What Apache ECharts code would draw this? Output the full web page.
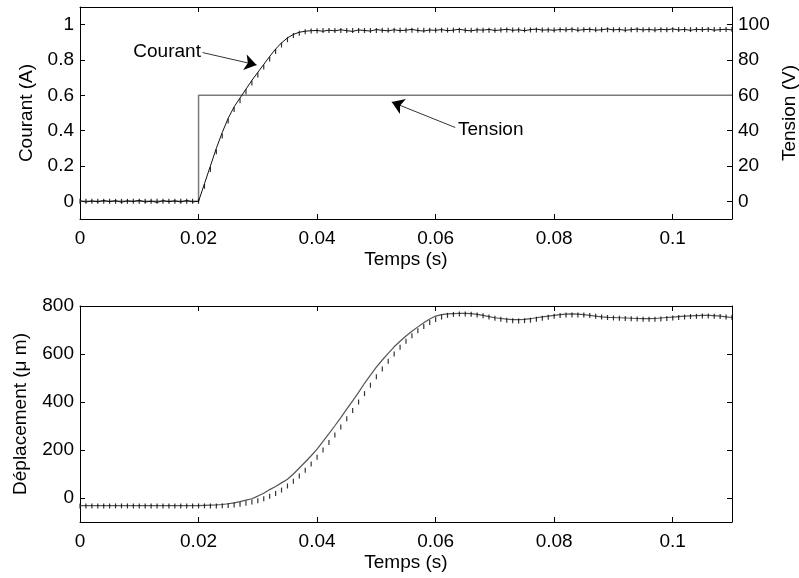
<!DOCTYPE html>
<html>
<head>
<meta charset="utf-8">
<script src="https://cdn.jsdelivr.net/npm/echarts@6/dist/echarts.min.js"></script>
<style>html,body{margin:0;padding:0;background:#fff;}#c{width:799px;height:578px;}</style>
</head>
<body>
<div id="c"></div>
<script>
// time samples (s)
const times = [0,0.001,0.002,0.003,0.004,0.005,0.006,0.007,0.008,0.009,
0.010,0.011,0.012,0.013,0.014,0.015,0.016,0.017,0.018,0.019,
0.020,0.021,0.022,0.023,0.024,0.025,0.026,0.027,0.028,0.029,
0.030,0.031,0.032,0.033,0.034,0.035,0.036,0.037,0.038,0.039,
0.040,0.041,0.042,0.043,0.044,0.045,0.046,0.047,0.048,0.049,
0.050,0.051,0.052,0.053,0.054,0.055,0.056,0.057,0.058,0.059,
0.060,0.061,0.062,0.063,0.064,0.065,0.066,0.067,0.068,0.069,
0.070,0.071,0.072,0.073,0.074,0.075,0.076,0.077,0.078,0.079,
0.080,0.081,0.082,0.083,0.084,0.085,0.086,0.087,0.088,0.089,
0.090,0.091,0.092,0.093,0.094,0.095,0.096,0.097,0.098,0.099,
0.100,0.101,0.102,0.103,0.104,0.105,0.106,0.107,0.108,0.109,0.110];

// Courant (A) - measured (solid, noisy)
const courantMesure = [0.003,-0.004,0.002,-0.003,0.005,-0.002,0.004,-0.005,0.003,-0.001,
0.006,-0.004,0.001,-0.006,0.004,-0.002,0.003,-0.004,0.005,-0.003,
0.000,0.10,0.20,0.30,0.39,0.47,0.535,0.585,0.635,0.685,
0.73,0.775,0.82,0.862,0.897,0.925,0.945,0.957,0.963,0.966,
0.967,0.963,0.969,0.965,0.971,0.966,0.962,0.970,0.967,0.964,
0.972,0.968,0.965,0.971,0.966,0.969,0.973,0.967,0.964,0.970,
0.968,0.972,0.966,0.969,0.974,0.968,0.965,0.971,0.969,0.973,
0.967,0.970,0.974,0.968,0.971,0.966,0.972,0.975,0.969,0.971,
0.968,0.973,0.970,0.975,0.968,0.972,0.974,0.969,0.971,0.976,
0.970,0.973,0.968,0.972,0.975,0.970,0.973,0.969,0.974,0.971,
0.976,0.970,0.973,0.968,0.974,0.971,0.975,0.969,0.972,0.974,0.970];

// Courant (A) - simulated (tick markers)
const courantSimule = [0,0,0,0,0,0,0,0,0,0,
0,0,0,0,0,0,0,0,0,0,
0,0.085,0.18,0.28,0.37,0.455,0.52,0.57,0.62,0.67,
0.715,0.76,0.805,0.848,0.885,0.915,0.938,0.952,0.960,0.964,
0.966,0.967,0.967,0.967,0.967,0.967,0.967,0.967,0.967,0.967,
0.967,0.968,0.968,0.968,0.968,0.968,0.968,0.968,0.968,0.968,
0.968,0.969,0.969,0.969,0.969,0.969,0.969,0.969,0.969,0.969,
0.969,0.970,0.970,0.970,0.970,0.970,0.970,0.970,0.970,0.970,
0.970,0.971,0.971,0.971,0.971,0.971,0.971,0.971,0.971,0.971,
0.971,0.971,0.971,0.971,0.971,0.971,0.971,0.971,0.971,0.971,
0.971,0.972,0.972,0.972,0.972,0.972,0.972,0.972,0.972,0.972,0.972];

// Tension (V) step
const tensionT = [0, 0.02, 0.02, 0.11];
const tensionV = [0, 0, 60, 60];

// Déplacement (µm) - measured (solid)
const deplMesure = [-32,-32,-32,-32,-32,-32,-32,-32,-32,-32,
-32,-32,-32,-32,-32,-32,-32,-32,-32,-32,
-32,-31,-30,-29,-27,-24,-20,-15,-9,-3,
8,20,35,48,63,78,100,125,150,176,
204,236,268,301,335,370,405,440,478,512,
545,575,603,630,653,675,695,713,730,746,
758,764,767,768,769,769,768,765,761,756,
751,748,745,743,743,744,747,751,755,758,
761,764,766,767,766,764,761,758,755,753,
752,751,750,749,748,747,747,748,750,752,
754,756,758,759,760,761,761,760,758,755,752];

// Déplacement (µm) - simulated (tick markers)
const deplSimule = [-33,-33,-33,-33,-33,-33,-33,-33,-33,-33,
-33,-33,-33,-33,-33,-33,-33,-33,-33,-33,
-33,-33,-33,-33,-32,-31,-29,-26,-22,-17,
-11,-3,7,19,33,50,70,92,116,142,
170,200,231,263,296,330,365,400,435,470,
505,538,570,600,628,653,676,697,715,731,
744,754,761,765,767,767,766,763,759,754,
749,745,741,739,738,739,741,745,749,753,
757,760,762,763,763,762,760,757,754,752,
750,749,748,747,746,745,745,745,746,748,
750,752,754,756,757,758,758,757,756,754,752];

const FONT = 'Liberation Sans';
const FS = 19;
const pairs = (xs, ys) => xs.map((x, i) => [x, ys[i]]);

const chart = echarts.init(document.getElementById('c'));

function xAx(grid, top, withName) {
  return {
    type: 'value', gridIndex: grid, min: 0, max: 0.11,
    position: top ? 'top' : 'bottom',
    name: withName ? 'Temps (s)' : '', nameLocation: 'middle', nameGap: 31,
    nameTextStyle: { fontFamily: FONT, fontSize: FS, color: '#000' },
    axisLine: { show: true, onZero: false, lineStyle: { color: '#000', width: 1 } },
    axisTick: { show: true, inside: true, length: 5, lineStyle: { color: '#000' } },
    axisLabel: { show: !top, margin: 10, fontFamily: FONT, fontSize: FS, color: '#000', showMaxLabel: false },
    splitLine: { show: false }
  };
}
function yAx(grid, right, min, max, name, gap, showLabel, showMax) {
  return {
    type: 'value', gridIndex: grid, min: min, max: max,
    position: right ? 'right' : 'left',
    name: name, nameLocation: 'middle', nameGap: gap, nameRotate: 90,
    nameTextStyle: { fontFamily: FONT, fontSize: FS, color: '#000' },
    axisLine: { show: true, onZero: false, lineStyle: { color: '#000', width: 1 } },
    axisTick: { show: true, inside: true, length: 5, lineStyle: { color: '#000' } },
    axisLabel: { show: showLabel, margin: 6, fontFamily: FONT, fontSize: FS, color: '#000',
                 showMinLabel: false, showMaxLabel: showMax },
    splitLine: { show: false }
  };
}

const tickMarker = {
  type: 'scatter', symbol: 'rect', symbolSize: [1.2, 5],
  itemStyle: { color: '#000' }, silent: true, z: 3
};
function arrow(from, to) {
  return {
    silent: true, symbol: ['none', 'arrow'], symbolSize: 12,
    label: { show: false }, lineStyle: { color: '#000', width: 0.8, type: 'solid' },
    itemStyle: { color: '#000' },
    emphasis: { disabled: true },
    data: [[{ coord: from }, { coord: to }]]
  };
}
function textMark(pos, txt) {
  return {
    silent: true,
    data: [{ coord: pos, symbol: 'rect', symbolSize: 1, itemStyle: { color: 'rgba(0,0,0,0)' },
      label: { show: true, position: 'inside', formatter: txt, fontFamily: FONT, fontSize: FS, color: '#000' } }]
  };
}

chart.setOption({
  animation: false,
  backgroundColor: '#fff',
  grid: [
    { left: 80, right: 67, top: 7, bottom: 359, containLabel: false, outerBoundsMode: 'none' },
    { left: 80, right: 67, top: 306, bottom: 56, containLabel: false, outerBoundsMode: 'none' }
  ],
  xAxis: [xAx(0, false, true), xAx(0, true, false), xAx(1, false, true), xAx(1, true, false)],
  yAxis: [
    yAx(0, false, -0.1, 1.1, 'Courant (A)', 43, true, false),
    yAx(0, true, -10, 110, 'Tension (V)', 44, true, false),
    yAx(1, false, -100, 800, 'Déplacement (μ m)', 50, true, true),
    yAx(1, true, -100, 800, '', 0, false, false)
  ],
  series: [
    {
      type: 'line', xAxisIndex: 0, yAxisIndex: 1, data: pairs(tensionT, tensionV),
      showSymbol: false, lineStyle: { color: '#7a7a7a', width: 1.5 }, z: 1,
      markLine: arrow([0.0633, 41.8], [0.0526, 56.2]),
      markPoint: textMark([0.0693, 40.5], 'Tension')
    },
    {
      type: 'line', xAxisIndex: 0, yAxisIndex: 0, data: pairs(times, courantMesure),
      showSymbol: false, lineStyle: { color: '#111', width: 1 }, z: 2,
      markLine: arrow([0.0207, 0.842], [0.0298, 0.772]),
      markPoint: textMark([0.0147, 0.847], 'Courant')
    },
    Object.assign({ xAxisIndex: 0, yAxisIndex: 0, data: pairs(times, courantSimule) }, tickMarker),
    {
      type: 'line', xAxisIndex: 2, yAxisIndex: 2, data: pairs(times, deplMesure),
      showSymbol: false, lineStyle: { color: '#555', width: 1.2 }, z: 2
    },
    Object.assign({ xAxisIndex: 2, yAxisIndex: 2, data: pairs(times, deplSimule) }, tickMarker)
  ]
});
</script>
</body>
</html>
